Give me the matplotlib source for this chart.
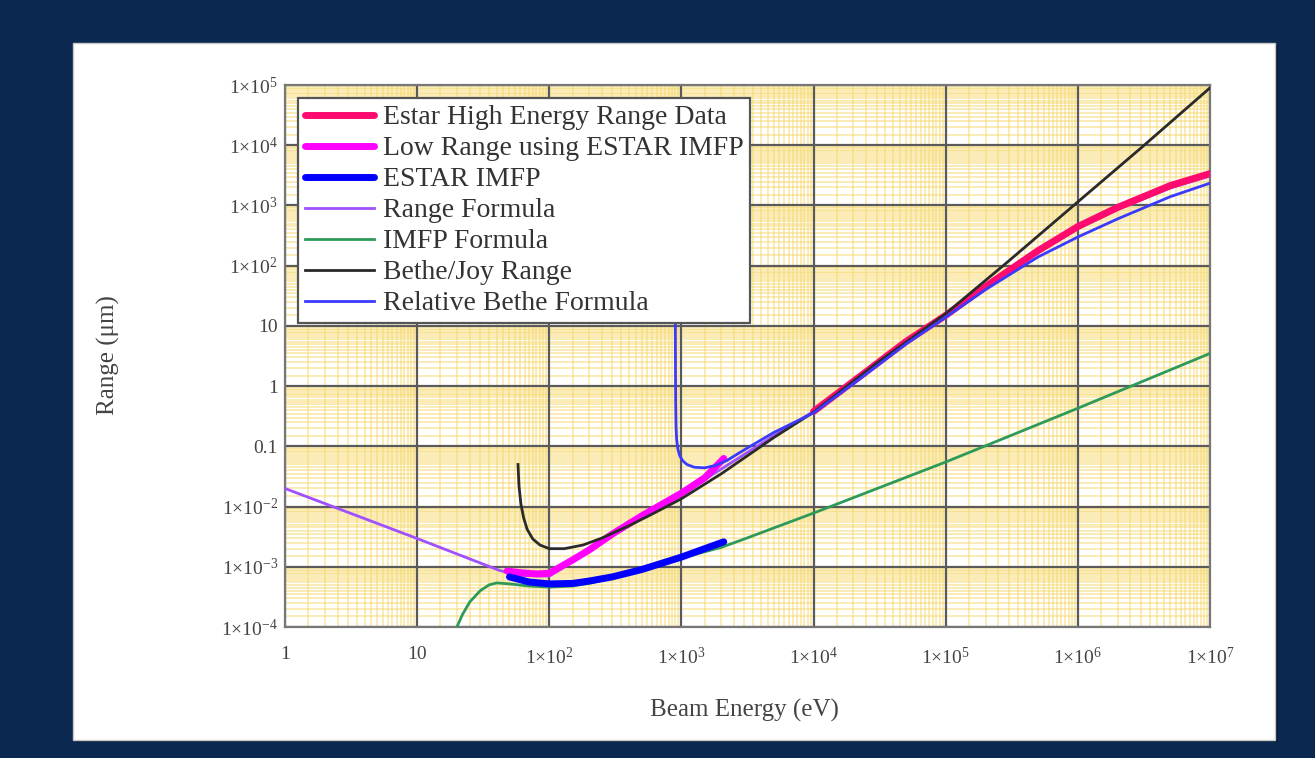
import numpy as np
import matplotlib
matplotlib.use('Agg')
import matplotlib.pyplot as plt
from matplotlib.patches import Rectangle
from matplotlib.ticker import FixedLocator, FixedFormatter, LogLocator, NullFormatter

plt.rcParams['font.family'] = ['Liberation Serif', 'DejaVu Serif']
plt.rcParams['mathtext.fontset'] = 'custom'
plt.rcParams['mathtext.rm'] = 'Liberation Serif'
plt.rcParams['mathtext.it'] = 'Liberation Serif:italic'

# tick positions / labels
x_ticks = [1, 10, 1e2, 1e3, 1e4, 1e5, 1e6, 1e7]
x_labels = ['1', '10', r'1$\times$10$^{2}$', r'1$\times$10$^{3}$', r'1$\times$10$^{4}$',
            r'1$\times$10$^{5}$', r'1$\times$10$^{6}$', r'1$\times$10$^{7}$']
y_ticks = [1e-4, 1e-3, 1e-2, 0.1, 1, 10, 1e2, 1e3, 1e4, 1e5]
y_labels = [r'1$\times$10$^{-4}$', r'1$\times$10$^{-3}$', r'1$\times$10$^{-2}$', '0.1', '1', '10',
            r'1$\times$10$^{2}$', r'1$\times$10$^{3}$', r'1$\times$10$^{4}$', r'1$\times$10$^{5}$']

# Estar High Energy Range Data
estar_E = [1e4, 2e4, 5e4, 1e5, 2e5, 5e5, 1e6, 2e6, 5e6, 1e7]
estar_R = [0.38, 1.2, 5.5, 15, 45, 178, 447, 930, 2140, 3390]

# Low Range using ESTAR IMFP
low_E = [48, 60, 80, 100, 150, 200, 300, 500, 1000, 1500, 1800, 2090]
low_R = [8.5e-4, 8e-4, 7.6e-4, 7.8e-4, 1.3e-3, 1.9e-3, 3.5e-3, 7e-3, 0.0167, 0.03, 0.045, 0.063]

# ESTAR IMFP
imfp_E = [50, 70, 100, 150, 200, 300, 500, 1000, 1500, 2090]
imfp_R = [6.8e-4, 5.6e-4, 5.2e-4, 5.3e-4, 5.8e-4, 6.8e-4, 9e-4, 1.45e-3, 2e-3, 2.6e-3]

# Range Formula
rf_E = [1, 10, 42, 60, 100, 150, 200, 300, 500, 1000, 2000, 5000, 1e4, 2e4, 5e4, 1e5, 2e5, 5e5,
        1e6, 2e6, 5e6, 1e7]
rf_R = [0.02, 2.95e-3, 8.7e-4, 7.2e-4, 7e-4, 1.2e-3, 1.8e-3, 3.3e-3, 6.8e-3, 0.016, 0.042, 0.15,
        0.38, 1.15, 5.2, 14, 42, 165, 420, 860, 1950, 3100]

# IMFP Formula
if_E = [20, 22, 25, 30, 35, 40, 50, 70, 100, 150, 200, 300, 500, 1000, 2000, 3000, 1e4, 1e5, 1e6, 1e7]
if_R = [1e-4, 1.6e-4, 2.6e-4, 4e-4, 5e-4, 5.4e-4, 5.2e-4, 4.8e-4, 4.6e-4, 4.8e-4, 5.3e-4, 6.5e-4,
        8.8e-4, 1.4e-3, 2.1e-3, 2.9e-3, 7.8e-3, 0.055, 0.43, 3.5]

# Bethe/Joy Range
bj_E = [58, 59, 61, 64, 68, 75, 85, 100, 130, 180, 250, 400, 600, 1000, 2000, 5000, 1e4, 3e4, 1e5,
        3e5, 1e6, 3e6, 1e7]
bj_R = [0.05, 0.022, 0.011, 0.0065, 0.0042, 0.0029, 0.0023, 0.002, 0.002, 0.0023, 0.003, 0.0048,
        0.0075, 0.0135, 0.035, 0.14, 0.37, 2.4, 16, 120, 1150, 9000, 9e4]

# Relative Bethe Formula
rb_E = [898, 900, 902, 905, 910, 920, 940, 970, 1020, 1100, 1250, 1500, 1800, 2200, 3000, 5000,
        1e4, 2e4, 5e4, 1e5, 2e5, 5e5, 1e6, 2e6, 5e6, 1e7]
rb_R = [100, 8, 1.5, 0.5, 0.22, 0.13, 0.09, 0.07, 0.058, 0.05, 0.045, 0.044, 0.048, 0.058, 0.088,
        0.17, 0.36, 1.1, 5.0, 14, 40, 140, 300, 600, 1400, 2350]

fig = plt.figure(figsize=(13.15, 7.58), dpi=100)
fig.patch.set_facecolor('#0b2850')

# white panel with a bit of shadow
fig.patches.append(Rectangle((0.0575, 0.0205), 0.914, 0.9195, transform=fig.transFigure,
                             facecolor='#061a38', edgecolor='none', zorder=-3))
fig.patches.append(Rectangle((0.0555, 0.0237), 0.914, 0.9195, transform=fig.transFigure,
                             facecolor='white', edgecolor='#c8c8c8', lw=1, zorder=-2))

ax = fig.add_axes([0.2167, 0.1728, 0.7035, 0.7150])
ax.set_facecolor('white')
ax.set_xscale('log')
ax.set_yscale('log')
ax.set_xlim(1, 1e7)
ax.set_ylim(1e-4, 1e5)

subs = np.arange(1.5, 10, 0.5)
ax.xaxis.set_minor_locator(LogLocator(base=10, subs=subs, numticks=100))
ax.yaxis.set_minor_locator(LogLocator(base=10, subs=subs, numticks=100))
ax.xaxis.set_minor_formatter(NullFormatter())
ax.yaxis.set_minor_formatter(NullFormatter())
ax.grid(which='minor', color='#f6d870', lw=1.1, alpha=0.65)
ax.grid(which='major', visible=False)
ax.set_axisbelow(True)
# dark decade lines on top of the yellow minor grid
ax.vlines(x_ticks, 1e-4, 1e5, color='#5a5a5a', lw=1.6, zorder=1.5)
ax.hlines(y_ticks, 1, 1e7, color='#5a5a5a', lw=1.6, zorder=1.5)

ax.xaxis.set_major_locator(FixedLocator(x_ticks))
ax.xaxis.set_major_formatter(FixedFormatter(x_labels))
ax.yaxis.set_major_locator(FixedLocator(y_ticks))
ax.yaxis.set_major_formatter(FixedFormatter(y_labels))
ax.tick_params(which='both', length=0, colors='#444444')
ax.tick_params(axis='x', pad=14, labelsize=14)
ax.tick_params(axis='y', pad=5, labelsize=14)

for s in ax.spines.values():
    s.set_color('#777777')
    s.set_linewidth(1.6)

ax.plot(rf_E, rf_R, color='#a050ff', lw=2, label='Range Formula', zorder=3)
ax.plot(if_E, if_R, color='#2e9a5a', lw=2, label='IMFP Formula', zorder=3)
ax.plot(estar_E, estar_R, color='#ff0a6e', lw=5, solid_capstyle='round',
        label='Estar High Energy Range Data', zorder=4)
ax.plot(low_E, low_R, color='#ff00ff', lw=5, solid_capstyle='round',
        label='Low Range using ESTAR IMFP', zorder=4)
ax.plot(imfp_E, imfp_R, color='#0000ff', lw=5, solid_capstyle='round', label='ESTAR IMFP', zorder=4)
ax.plot(bj_E, bj_R, color='#2a2a2a', lw=2, label='Bethe/Joy Range', zorder=5)
ax.plot(rb_E, rb_R, color='#3a3aff', lw=2, label='Relative Bethe Formula', zorder=5)

order = ['Estar High Energy Range Data', 'Low Range using ESTAR IMFP', 'ESTAR IMFP',
         'Range Formula', 'IMFP Formula', 'Bethe/Joy Range', 'Relative Bethe Formula']
handles, labels = ax.get_legend_handles_labels()
hmap = dict(zip(labels, handles))
leg = ax.legend([hmap[k] for k in order], order, loc='upper left', bbox_to_anchor=(0.014, 0.976),
                fontsize=20, frameon=True, fancybox=False, framealpha=1, edgecolor='#555555',
                borderpad=0.25, labelspacing=0.2, handlelength=2.5, handletextpad=0.3,
                borderaxespad=0)
leg.get_frame().set_linewidth(1.6)
leg.set_zorder(10)
for t in leg.get_texts():
    t.set_color('#333333')

ax.set_xlabel('Beam Energy (eV)', fontsize=18, color='#444444')
ax.set_ylabel('Range (\u03bcm)', fontsize=18, color='#444444')
ax.xaxis.set_label_coords(0.497, -0.132)
ax.yaxis.set_label_coords(-0.178, 0.502)

fig.savefig('out.png', dpi=100, facecolor=fig.get_facecolor())
